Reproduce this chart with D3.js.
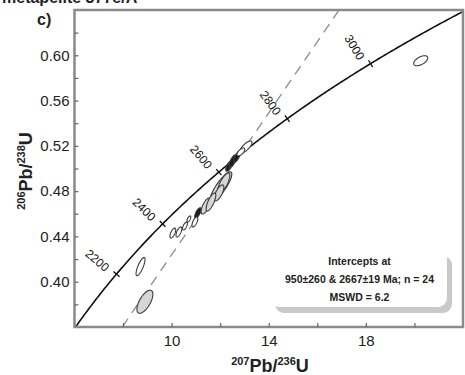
<!DOCTYPE html>
<html lang="en">
<head>
    <meta charset="UTF-8">
    <title>Concordia</title>
    <script src="https://d3js.org/d3.v7.min.js"></script>
    <style>
        body { margin: 0; background: #fff; }
        text { font-family: "Liberation Sans", Arial, sans-serif; }
    </style>
</head>
<body>
<script>

    // axis ticks
    var yMajor = [0.40, 0.44, 0.48, 0.52, 0.56, 0.60];
    var yMinor = [0.38, 0.42, 0.46, 0.50, 0.54, 0.58, 0.62];
    var xMajor = [10, 14, 18];
    var xMinor = [8, 12, 16, 20];

    // concordia age marks (Ma) and discordia intercepts (Ma)
    var concordiaAges = [2200, 2400, 2600, 2800, 3000];
    var intercepts = [950, 2667];

    // error ellipses: centre, half extents, correlation, fill tone
    var ellX   = [20.26, 8.90, 8.72, 12.03, 12.15, 11.95, 11.41, 11.62, 11.08, 12.36, 12.52, 12.69, 10.05, 10.30, 10.55, 10.71, 10.96, 13.06, 12.85];
    var ellY   = [0.5952, 0.3823, 0.4134, 0.4837, 0.4872, 0.4784, 0.4669, 0.4704, 0.4607, 0.5022, 0.5066, 0.5102, 0.4430, 0.4439, 0.4492, 0.4554, 0.4528, 0.5190, 0.5146];
    var ellSx  = [0.29, 0.33, 0.185, 0.45, 0.25, 0.20, 0.20, 0.20, 0.13, 0.13, 0.15, 0.13, 0.12, 0.12, 0.10, 0.08, 0.12, 0.25, 0.16];
    var ellSy  = [0.0044, 0.0102, 0.0080, 0.0133, 0.0088, 0.0071, 0.0071, 0.0080, 0.0046, 0.0046, 0.0055, 0.0046, 0.0044, 0.0044, 0.0035, 0.0027, 0.0044, 0.0053, 0.0035];
    var ellRho = [0.55, 0.65, 0.78, 0.85, 0.75, 0.70, 0.70, 0.75, 0.70, 0.70, 0.70, 0.70, 0.65, 0.65, 0.65, 0.65, 0.65, 0.75, 0.65];
    var ellTone = ["w", "g", "w", "g", "g", "g", "g", "g", "k", "k", "k", "k", "w", "w", "w", "w", "w", "w", "w"];

    var lambda238 = 1.55125e-10;
    var lambda235 = 9.8485e-10;

    var width = 465;
    var height = 375;
    var margin = {top: 10, right: 2, bottom: 48, left: 74.5};

    var svg = d3.select("body").append("svg")
        .attr("width", width)
        .attr("height", height);

    var xScale = d3.scaleLinear()
        .domain([6, 22])
        .range([margin.left, width - margin.right]);
    var yScale = d3.scaleLinear()
        .domain([0.36, 0.64])
        .range([height - margin.bottom, margin.top]);

    svg.append("defs").append("clipPath")
        .attr("id", "plot")
        .append("rect")
        .attr("x", xScale(6))
        .attr("y", yScale(0.64))
        .attr("width", xScale(22) - xScale(6))
        .attr("height", yScale(0.36) - yScale(0.64));

    function ratios(age) {
        var t = age * 1e6;
        return {
            x: Math.exp(lambda235 * t) - 1,
            y: Math.exp(lambda238 * t) - 1
        };
    }

    // inset box
    var box = {x: 270, y: 250, w: 177, h: 57};
    svg.append("rect")
        .attr("x", box.x + 5).attr("y", box.y + 6)
        .attr("width", box.w).attr("height", box.h)
        .attr("rx", 9)
        .attr("fill", "#c9c9c9");
    svg.append("rect")
        .attr("x", box.x).attr("y", box.y)
        .attr("width", box.w).attr("height", box.h)
        .attr("rx", 9)
        .attr("fill", "#fff");
    var boxLines = ["Intercepts at", "950\u00b1260 & 2667\u00b119 Ma; n = 24", "MSWD = 6.2"];
    svg.selectAll(".boxtxt")
        .data(boxLines)
        .enter().append("text")
        .attr("x", box.x + box.w / 2 + 1)
        .attr("y", function (d, i) { return box.y + 15 + i * 18; })
        .attr("text-anchor", "middle")
        .attr("font-size", "10.5px")
        .attr("font-weight", "bold")
        .attr("fill", "#222")
        .text(function (d) { return d; });

    var g = svg.append("g").attr("clip-path", "url(#plot)");

    // discordia
    var lo = ratios(intercepts[0]);
    var hi = ratios(intercepts[1]);
    var slope = (hi.y - lo.y) / (hi.x - lo.x);
    g.append("line")
        .attr("x1", xScale(lo.x + (0.36 - lo.y) / slope))
        .attr("y1", yScale(0.36))
        .attr("x2", xScale(lo.x + (0.64 - lo.y) / slope))
        .attr("y2", yScale(0.64))
        .attr("stroke", "#8c8c8c")
        .attr("stroke-width", 1.3)
        .attr("stroke-dasharray", "10,7");

    // concordia curve
    var curve = d3.range(1900, 3300, 5).map(ratios);
    var line = d3.line()
        .x(function (d) { return xScale(d.x); })
        .y(function (d) { return yScale(d.y); });
    g.append("path")
        .datum(curve)
        .attr("fill", "none")
        .attr("stroke", "#111")
        .attr("stroke-width", 1.6)
        .attr("d", line);

    // ellipses
    var ellipse = d3.line()
        .x(function (d) { return xScale(d.x); })
        .y(function (d) { return yScale(d.y); })
        .curve(d3.curveLinearClosed);
    var fills = {w: "#fff", g: "#d6d6d6", k: "#1c1c1c"};
    ellX.forEach(function (cx, i) {
        var pts = d3.range(0, 2 * Math.PI, Math.PI / 30).map(function (a) {
            var r = ellRho[i];
            return {
                x: cx + ellSx[i] * Math.cos(a),
                y: ellY[i] + ellSy[i] * (r * Math.cos(a) + Math.sqrt(1 - r * r) * Math.sin(a))
            };
        });
        g.append("path")
            .datum(pts)
            .attr("fill", fills[ellTone[i]])
            .attr("stroke", "#3a3a3a")
            .attr("stroke-width", 1.1)
            .attr("d", ellipse);
    });

    // age marks on concordia
    concordiaAges.forEach(function (age) {
        var p = ratios(age);
        var p2 = ratios(age + 1);
        var px = xScale(p.x), py = yScale(p.y);
        var ang = Math.atan2(yScale(p2.y) - py, xScale(p2.x) - px);
        var nx = -Math.sin(ang), ny = Math.cos(ang);
        g.append("line")
            .attr("x1", px - nx * 4).attr("y1", py - ny * 4)
            .attr("x2", px + nx * 4).attr("y2", py + ny * 4)
            .attr("stroke", "#111")
            .attr("stroke-width", 1.3);
        var rot = ang * 180 / Math.PI + 90;
        svg.append("text")
            .attr("transform", "translate(" + (px - 9) + "," + (py - 5) + ") rotate(" + rot + ")")
            .attr("text-anchor", "end")
            .attr("dy", "0.35em")
            .attr("font-size", "12px")
            .attr("fill", "#111")
            .text(age);
    });

    // frame
    svg.append("rect")
        .attr("x", xScale(6))
        .attr("y", yScale(0.64))
        .attr("width", xScale(22) - xScale(6))
        .attr("height", yScale(0.36) - yScale(0.64))
        .attr("fill", "none")
        .attr("stroke", "#8a8a8a")
        .attr("stroke-width", 2.5);

    // axes
    var yAxis = d3.axisLeft(yScale)
        .tickValues(yMajor.concat(yMinor))
        .tickSizeInner(-4)
        .tickSizeOuter(0)
        .tickPadding(5)
        .tickFormat(function (d) { return yMajor.indexOf(d) >= 0 ? d3.format(".2f")(d) : ""; });
    var gy = svg.append("g")
        .attr("transform", "translate(" + xScale(6) + ",0)")
        .call(yAxis);

    var xAxis = d3.axisBottom(xScale)
        .tickValues(xMajor.concat(xMinor))
        .tickSizeInner(-4)
        .tickSizeOuter(0)
        .tickPadding(8)
        .tickFormat(function (d) { return xMajor.indexOf(d) >= 0 ? d : ""; });
    var gx = svg.append("g")
        .attr("transform", "translate(0," + yScale(0.36) + ")")
        .call(xAxis);

    [gx, gy].forEach(function (a) {
        a.select(".domain").remove();
        a.selectAll(".tick line").attr("stroke", "#666").attr("stroke-width", 1.2);
        a.selectAll(".tick text")
            .attr("font-family", "'Liberation Sans', Arial, sans-serif")
            .attr("font-size", "15px")
            .attr("fill", "#222");
    });

    // axis titles
    var xt = svg.append("text")
        .attr("x", 270)
        .attr("y", 372)
        .attr("text-anchor", "middle")
        .attr("font-weight", "bold")
        .attr("font-size", "18px")
        .attr("fill", "#222");
    xt.append("tspan").attr("font-size", "11px").attr("dy", "-7").text("207");
    xt.append("tspan").attr("dy", "7").text("Pb/");
    xt.append("tspan").attr("font-size", "11px").attr("dy", "-7").text("236");
    xt.append("tspan").attr("dy", "7").text("U");

    var yt = svg.append("text")
        .attr("transform", "translate(32,171) rotate(-90)")
        .attr("text-anchor", "middle")
        .attr("font-weight", "bold")
        .attr("font-size", "18px")
        .attr("fill", "#222");
    yt.append("tspan").attr("font-size", "11px").attr("dy", "-7").text("206");
    yt.append("tspan").attr("dy", "7").text("Pb/");
    yt.append("tspan").attr("font-size", "11px").attr("dy", "-7").text("238");
    yt.append("tspan").attr("dy", "7").text("U");

    // panel letter and cut-off heading
    svg.append("text")
        .attr("x", 37).attr("y", 25)
        .attr("font-weight", "bold")
        .attr("font-size", "16px")
        .attr("fill", "#222")
        .text("c)");
    svg.append("text")
        .attr("x", 2).attr("y", 3)
        .attr("font-weight", "bold")
        .attr("font-size", "16px")
        .attr("fill", "#222")
        .text("metapelite 377e/A");

</script>
</body>
</html>
